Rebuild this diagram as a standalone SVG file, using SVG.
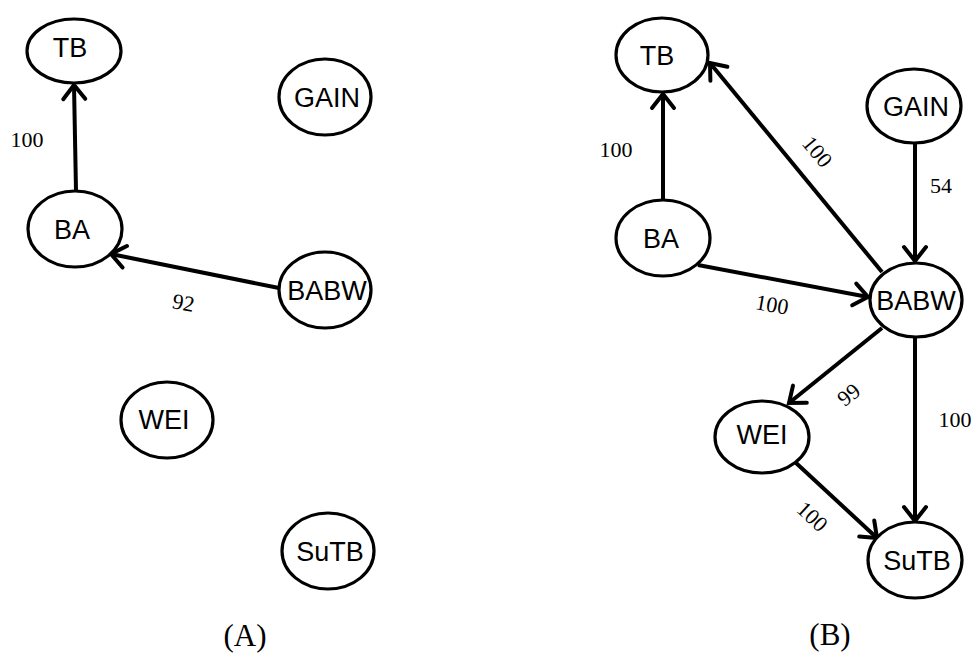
<svg xmlns="http://www.w3.org/2000/svg" width="974" height="656" viewBox="0 0 974 656">
  <style>
    .node ellipse { fill: #fff; stroke: #000; stroke-width: 3.2; }
    .node text { font-family: "Liberation Sans", Arial, sans-serif; font-size: 27px; text-anchor: middle; fill: #000; }
    .edges line { stroke: #000; stroke-width: 4; marker-end: url(#arrow); }
    .lbl { font-family: "Liberation Serif", "Times New Roman", serif; font-size: 22px; text-anchor: middle; fill: #000; }
    .panel { font-family: "Liberation Serif", "Times New Roman", serif; font-size: 31px; text-anchor: middle; fill: #000; }
  </style>
  <defs>
    <marker id="arrow" markerUnits="userSpaceOnUse" markerWidth="34" markerHeight="34" viewBox="-22 -17 34 34" refX="0" refY="0" orient="auto">
      <path d="M -14 -11 L 0 0 L -14 11" fill="none" stroke="#000" stroke-width="4" stroke-linecap="round" stroke-linejoin="miter"/>
    </marker>
  </defs>
  <rect width="974" height="656" fill="#fff"/>

  <!-- Panel A connectors -->
  <g class="edges" id="edges-a">
    <line x1="76" y1="191" x2="74" y2="85"/>
    <line x1="279" y1="288" x2="111" y2="254"/>
  </g>
  <!-- Panel B connectors -->
  <g class="edges" id="edges-b">
    <line x1="663" y1="200" x2="663" y2="94"/>
    <line x1="882" y1="272" x2="710" y2="63"/>
    <line x1="915" y1="143" x2="915" y2="261"/>
    <line x1="698" y1="265" x2="868" y2="297"/>
    <line x1="882" y1="328" x2="789" y2="403"/>
    <line x1="915" y1="337" x2="915" y2="521"/>
    <line x1="795" y1="462" x2="877" y2="538"/>
  </g>

  <!-- Panel A nodes -->
  <g class="node" id="a-TB"><ellipse cx="74" cy="51" rx="47" ry="32"/><text x="70" y="57">TB</text></g>
  <g class="node" id="a-GAIN"><ellipse cx="325" cy="97" rx="46" ry="38"/><text x="327" y="107">GAIN</text></g>
  <g class="node" id="a-BA"><ellipse cx="75" cy="229" rx="47" ry="38"/><text x="72" y="239">BA</text></g>
  <g class="node" id="a-BABW"><ellipse cx="325" cy="290" rx="46" ry="38"/><text x="327" y="300">BABW</text></g>
  <g class="node" id="a-WEI"><ellipse cx="167" cy="420" rx="46" ry="38"/><text x="164" y="429">WEI</text></g>
  <g class="node" id="a-SuTB"><ellipse cx="328" cy="551" rx="46" ry="38"/><text x="330" y="561">SuTB</text></g>

  <!-- Panel B nodes -->
  <g class="node" id="b-TB"><ellipse cx="662" cy="55" rx="46" ry="37"/><text x="657" y="65">TB</text></g>
  <g class="node" id="b-GAIN"><ellipse cx="914" cy="106" rx="47" ry="37"/><text x="916" y="116">GAIN</text></g>
  <g class="node" id="b-BA"><ellipse cx="663" cy="238" rx="47" ry="38"/><text x="661" y="248">BA</text></g>
  <g class="node" id="b-BABW"><ellipse cx="916" cy="300" rx="46" ry="37"/><text x="916" y="310">BABW</text></g>
  <g class="node" id="b-WEI"><ellipse cx="762" cy="437" rx="47" ry="36"/><text x="762" y="444">WEI</text></g>
  <g class="node" id="b-SuTB"><ellipse cx="915" cy="560" rx="47" ry="38"/><text x="917" y="570">SuTB</text></g>

  <!-- Edge weights -->
  <g id="labels">
    <text class="lbl" x="27" y="147">100</text>
    <text class="lbl" transform="translate(182,310) rotate(11)" x="0" y="0">92</text>
    <text class="lbl" x="616" y="157">100</text>
    <text class="lbl" transform="translate(817,152) rotate(50)" x="0" y="7">100</text>
    <text class="lbl" x="941" y="193">54</text>
    <text class="lbl" transform="translate(772,305) rotate(10)" x="0" y="7">100</text>
    <text class="lbl" transform="translate(849,395) rotate(-39)" x="0" y="7">99</text>
    <text class="lbl" x="955" y="427">100</text>
    <text class="lbl" transform="translate(812,517) rotate(43)" x="0" y="7">100</text>
  </g>

  <text class="panel" x="245" y="646">(A)</text>
  <text class="panel" x="830" y="645">(B)</text>
</svg>
